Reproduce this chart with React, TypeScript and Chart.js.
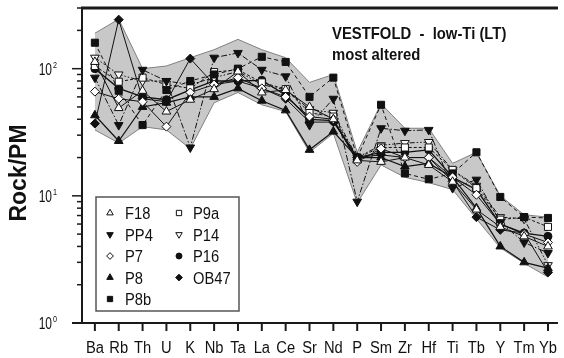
import React, { useEffect, useRef } from "react";
import { Chart, registerables } from "chart.js";
import { drawPoint } from "chart.js/helpers";

Chart.register(...registerables);

const categories = ["Ba", "Rb", "Th", "U", "K", "Nb", "Ta", "La", "Ce", "Sr", "Nd", "P", "Sm", "Zr", "Hf", "Ti", "Tb", "Y", "Tm", "Yb"];

const F18 = [113, 49, 67, 46, 57, 69, 95, 65, 68, 50, 40, 19, 18.5, 20, 17.5, 12.9, 7.8, 5.7, 4.8, 4.0];
const PP4 = [85, 36, 98, 80, 24, 122, 133, 98, 87, 36, 58, 9, 34, 32.5, 33, 11.5, 13.4, 6.2, 4.3, 3.55];
const P7 = [66, 58, 55, 35, 65, 75, 85, 70, 60, 42, 40, 18.5, 23.5, 20, 20, 14, 10.2, 6.0, 5.0, 4.3];
const P8 = [43, 27, 50, 54, 60, 60, 70, 56, 47, 23, 32, 20, 20, 17, 18, 14, 8, 4.0, 3.0, 2.7];
const P8b = [160, 67, 36, 68, 80, 90, 100, 124, 113, 60, 85, 20, 52, 15, 13.5, 15, 22, 9.8, 6.8, 6.7];
const P9a = [105, 79, 85, 75, 70, 94, 98, 78, 69, 45, 42, 20, 24, 24, 24, 16, 11.5, 6.5, 6.8, 5.7];
const P14 = [122, 90, 80, 80, 75, 85, 95, 75, 68, 48, 45, 20, 25, 26, 26.5, 16, 12, 6.8, 6.6, 2.85];
const P16 = [100, 70, 60, 57, 68, 80, 80, 81, 62, 40, 39, 20, 22, 22, 23, 14, 11.2, 6.0, 5.1, 4.8];
const OB47 = [37, 243, 58, 55, 120, 75, 80, 70, 58, 38, 38, 20, 21, 20, 20, 13, 6.8, 5.4, 5.1, 2.5];

const envelopeUpper = [190, 245, 100, 105, 122, 141, 170, 141, 122, 78, 90, 22, 53, 34, 34, 18, 22, 10, 7.1, 6.8];
const envelopeLower = [33, 26, 35, 33, 23.5, 54, 65, 52, 46, 22, 31, 8.8, 17.5, 14, 12.7, 11.2, 6.6, 3.9, 2.95, 2.3];

const yMajorTicks = [1, 10, 100];
const yTickExponents = ["0", "1", "2"];
const yMin = 1;
const yMax = 300;
const titleLines = ["VESTFOLD  -  low-Ti (LT)", "most altered"];
const yAxisTitle = "Rock/PM";

type SeriesStyle = {
  label: string;
  data: number[];
  pointStyle: string;
  filled: boolean;
  rotation: number;
  radius: number;
  dash: number[];
  width: number;
};

const series: SeriesStyle[] = [
  { label: "F18", data: F18, pointStyle: "triangle", filled: false, rotation: 0, radius: 5, dash: [], width: 1 },
  { label: "PP4", data: PP4, pointStyle: "triangle", filled: true, rotation: 180, radius: 5, dash: [6, 2, 1.5, 2], width: 1 },
  { label: "P7", data: P7, pointStyle: "rectRot", filled: false, rotation: 0, radius: 4.5, dash: [], width: 1 },
  { label: "P8", data: P8, pointStyle: "triangle", filled: true, rotation: 0, radius: 5, dash: [], width: 1.2 },
  { label: "P8b", data: P8b, pointStyle: "rect", filled: true, rotation: 0, radius: 5, dash: [4, 3], width: 1 },
  { label: "P9a", data: P9a, pointStyle: "rect", filled: false, rotation: 0, radius: 5, dash: [3, 2], width: 1 },
  { label: "P14", data: P14, pointStyle: "triangle", filled: false, rotation: 180, radius: 5, dash: [5, 2, 1.5, 2, 1.5, 2], width: 1 },
  { label: "P16", data: P16, pointStyle: "circle", filled: true, rotation: 0, radius: 4, dash: [], width: 1.3 },
  { label: "OB47", data: OB47, pointStyle: "rectRot", filled: true, rotation: 0, radius: 4.5, dash: [], width: 1 },
];

const legendCols = [
  ["F18", "PP4", "P7", "P8", "P8b"],
  ["P9a", "P14", "P16", "OB47"],
];

const SANS = "'Liberation Sans', Arial, Helvetica, sans-serif";

function scaledText(ctx: CanvasRenderingContext2D, text: string, x: number, y: number, sx: number, align: CanvasTextAlign) {
  ctx.save();
  ctx.translate(x, y);
  ctx.scale(sx, 1);
  ctx.textAlign = align;
  ctx.textBaseline = "alphabetic";
  ctx.fillText(text, 0, 0);
  ctx.restore();
}

const decorPlugin = {
  id: "decor",
  afterDraw(chart: any) {
    const ctx: CanvasRenderingContext2D = chart.ctx;
    const xs = chart.scales.x;
    const ys = chart.scales.y;
    const { left, top, right, bottom } = chart.chartArea;
    ctx.save();
    ctx.strokeStyle = "#1a1a1a";
    ctx.fillStyle = "#111";
    // top frame
    ctx.lineWidth = 3;
    ctx.beginPath();
    ctx.moveTo(left - 1, top);
    ctx.lineTo(right, top);
    ctx.stroke();
    // left axis
    ctx.lineWidth = 2;
    ctx.beginPath();
    ctx.moveTo(left, top);
    ctx.lineTo(left, bottom);
    ctx.stroke();
    // bottom axis
    ctx.beginPath();
    ctx.moveTo(left - 10, bottom);
    ctx.lineTo(right, bottom);
    ctx.stroke();
    // y ticks
    ctx.lineWidth = 1.5;
    for (let d = 0; d < 3; d++) {
      for (let m = 1; m <= 9; m++) {
        const v = m * Math.pow(10, d);
        if (v > yMax) break;
        const y = ys.getPixelForValue(v);
        const len = m === 1 ? 10 : 5;
        ctx.beginPath();
        ctx.moveTo(left - len, y);
        ctx.lineTo(left, y);
        ctx.stroke();
      }
    }
    // y labels
    yMajorTicks.forEach((v, i) => {
      const y = ys.getPixelForValue(v);
      ctx.font = `16px ${SANS}`;
      scaledText(ctx, "10", 52, y + 6, 0.75, "right");
      ctx.font = `9px ${SANS}`;
      scaledText(ctx, yTickExponents[i], 53, y - 1, 0.8, "left");
    });
    // x ticks and labels
    ctx.lineWidth = 2;
    ctx.font = `16px ${SANS}`;
    categories.forEach((c, i) => {
      const x = xs.getPixelForValue(i);
      ctx.beginPath();
      ctx.moveTo(x, bottom);
      ctx.lineTo(x, bottom + 8);
      ctx.stroke();
      scaledText(ctx, c, x, 353, 0.92, "center");
    });
    // y axis title
    ctx.save();
    ctx.translate(26, 173);
    ctx.rotate(-Math.PI / 2);
    ctx.font = `bold 23px ${SANS}`;
    ctx.textAlign = "center";
    ctx.textBaseline = "alphabetic";
    ctx.fillText(yAxisTitle, 0, 0);
    ctx.restore();
    // title
    ctx.font = `bold 16.5px ${SANS}`;
    scaledText(ctx, titleLines[0], 332, 39, 0.9, "left");
    scaledText(ctx, titleLines[1], 332, 60, 0.9, "left");
    // legend box
    ctx.fillStyle = "#fff";
    ctx.fillRect(96, 197, 143, 114);
    ctx.strokeStyle = "#555";
    ctx.lineWidth = 1.5;
    ctx.strokeRect(96, 197, 143, 114);
    const rowsY = [213, 234.5, 256, 277.5, 299];
    const colSym = [110, 179];
    const colText = [125, 193];
    legendCols.forEach((col, ci) => {
      col.forEach((name, ri) => {
        const s = series.find((q) => q.label === name)!;
        const y = rowsY[ri];
        ctx.fillStyle = s.filled ? "#111" : "#fff";
        ctx.strokeStyle = "#111";
        ctx.lineWidth = 1;
        drawPoint(ctx, { pointStyle: s.pointStyle as any, radius: s.radius * 0.75, rotation: s.rotation, borderWidth: 1 }, colSym[ci], y);
        ctx.fillStyle = "#111";
        ctx.font = `16px ${SANS}`;
        scaledText(ctx, name, colText[ci], y + 6, 0.92, "left");
      });
    });
    ctx.restore();
  },
};

export default function App() {
  const ref = useRef<HTMLCanvasElement | null>(null);
  useEffect(() => {
    if (!ref.current) return;
    const toPts = (arr: number[]) => arr.map((v, i) => ({ x: i, y: v }));
    const datasets: any[] = series.map((s) => ({
      label: s.label,
      data: toPts(s.data),
      borderColor: "#111",
      borderWidth: s.width,
      borderDash: s.dash,
      pointStyle: s.pointStyle,
      pointRotation: s.rotation,
      pointRadius: s.radius,
      pointBackgroundColor: s.filled ? "#111" : "#fff",
      pointBorderColor: "#111",
      pointBorderWidth: 1,
      fill: false,
      tension: 0,
    }));
    datasets.push({
      label: "envelope-upper",
      data: toPts(envelopeUpper),
      borderColor: "#808080",
      borderWidth: 1,
      pointRadius: 0,
      fill: false,
      tension: 0,
    });
    datasets.push({
      label: "envelope-lower",
      data: toPts(envelopeLower),
      borderColor: "#808080",
      borderWidth: 1,
      pointRadius: 0,
      backgroundColor: "#c8c8c8",
      fill: "-1",
      tension: 0,
    });
    const chart = new Chart(ref.current, {
      type: "line",
      data: { datasets },
      options: {
        animation: false,
        responsive: false,
        devicePixelRatio: 1,
        layout: { padding: { top: 8, right: 0, left: 0, bottom: 0 } },
        plugins: { legend: { display: false }, tooltip: { enabled: false } },
        scales: {
          x: {
            type: "linear",
            min: -0.54,
            max: 19.42,
            grid: { display: false },
            border: { display: false },
            ticks: { display: false },
            afterFit: (s: any) => {
              s.height = 35;
            },
          },
          y: {
            type: "logarithmic",
            min: yMin,
            max: yMax,
            grid: { display: false },
            border: { display: false },
            ticks: { display: false },
            afterFit: (s: any) => {
              s.width = 82;
            },
          },
        },
      } as any,
      plugins: [decorPlugin],
    });
    return () => chart.destroy();
  }, []);
  return (
    <div style={{ position: "absolute", left: 0, top: 0, width: 564, height: 358, background: "#fff" }}>
      <canvas ref={ref} width={564} height={358} style={{ display: "block" }} />
    </div>
  );
}
